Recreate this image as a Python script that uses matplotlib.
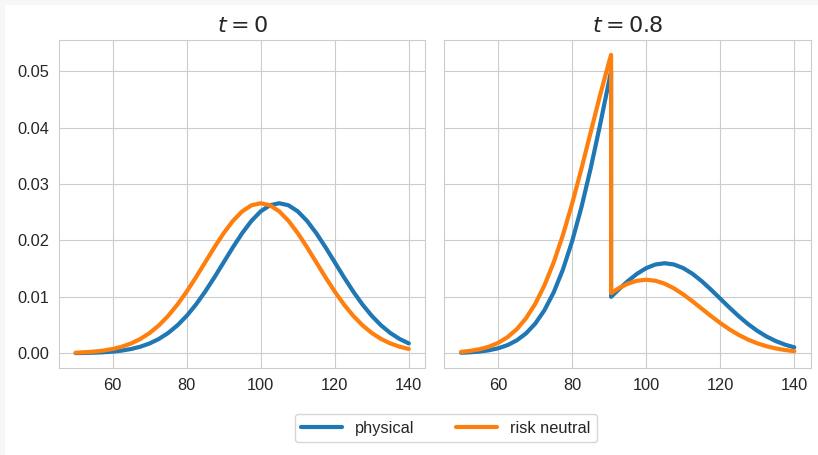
import matplotlib
matplotlib.use("Agg")
import matplotlib.pyplot as plt
import seaborn as sns
from matplotlib.patches import Rectangle

# values
x_t0 = [50, 52.5, 55, 57.5, 60, 62.5, 65, 67.5, 70, 72.5, 75, 77.5, 80, 82.5, 85, 87.5,
        90, 92.5, 95, 97.5, 100, 102.5, 105, 107.5, 110, 112.5, 115, 117.5, 120, 122.5,
        125, 127.5, 130, 132.5, 135, 137.5, 140]
physical_t0 = [0.000032, 0.000058, 0.000103, 0.000177, 0.000295, 0.000480, 0.000760,
               0.001169, 0.001748, 0.002544, 0.003599, 0.004954, 0.006632, 0.008634,
               0.010934, 0.013467, 0.016131, 0.018794, 0.021297, 0.023471, 0.025159,
               0.026229, 0.026596, 0.026229, 0.025159, 0.023471, 0.021297, 0.018794,
               0.016131, 0.013467, 0.010934, 0.008634, 0.006632, 0.004954, 0.003599,
               0.002544, 0.001748]
neutral_t0 = [0.000103, 0.000177, 0.000295, 0.000480, 0.000760, 0.001169, 0.001748,
              0.002544, 0.003599, 0.004954, 0.006632, 0.008634, 0.010934, 0.013467,
              0.016131, 0.018794, 0.021297, 0.023471, 0.025159, 0.026229, 0.026596,
              0.026229, 0.025159, 0.023471, 0.021297, 0.018794, 0.016131, 0.013467,
              0.010934, 0.008634, 0.006632, 0.004954, 0.003599, 0.002544, 0.001748,
              0.001169, 0.000760]

x_t08 = [50, 52.5, 55, 57.5, 60, 62.5, 65, 67.5, 70, 72.5, 75, 77.5, 80, 82.5, 85, 87.5,
         90, 90.5, 90.5, 92.5, 95, 97.5, 100, 102.5, 105, 107.5, 110, 112.5, 115, 117.5,
         120, 122.5, 125, 127.5, 130, 132.5, 135, 137.5, 140]
physical_t08 = [0.000096, 0.000174, 0.000309, 0.000531, 0.000885, 0.001440, 0.002280,
                0.003507, 0.005244, 0.007632, 0.010797, 0.014862, 0.019896, 0.025902,
                0.032802, 0.040401, 0.048393, 0.050010,
                0.010002, 0.011276, 0.012778, 0.014083, 0.015095, 0.015737, 0.015958,
                0.015737, 0.015095, 0.014083, 0.012778, 0.011276, 0.009679, 0.008080,
                0.006560, 0.005180, 0.003979, 0.002972, 0.002159, 0.001526, 0.001049]
neutral_t08 = [0.000250, 0.000430, 0.000717, 0.001166, 0.001847, 0.002841, 0.004248,
               0.006182, 0.008746, 0.012038, 0.016116, 0.020981, 0.026570, 0.032725,
               0.039198, 0.045669, 0.051752, 0.052884,
               0.010664, 0.011501, 0.012328, 0.012852, 0.013032, 0.012852, 0.012328,
               0.011501, 0.010436, 0.009209, 0.007904, 0.006599, 0.005358, 0.004231,
               0.003250, 0.002427, 0.001764, 0.001247, 0.000857, 0.000573, 0.000372]

titles = ["$t = 0$", "$t = 0.8$"]
labels = ["physical", "risk neutral"]

sns.set_style("whitegrid")
plt.rcParams["font.family"] = ["Liberation Sans", "DejaVu Sans"]

fig, axes = plt.subplots(1, 2, figsize=(8.18, 4.55), dpi=100, sharey=True)
fig.patch.set_facecolor("#f7f7f7")
fig.patches.append(Rectangle((5 / 818, 0), 1, 1 - 5 / 455, transform=fig.transFigure,
                             facecolor="white", edgecolor="none", zorder=-1))
fig.subplots_adjust(left=0.0721, right=0.9914, bottom=0.1912, top=0.9121, wspace=0.052)

series = [(x_t0, physical_t0, neutral_t0), (x_t08, physical_t08, neutral_t08)]
for ax, title, (xs, phys, neut) in zip(axes, titles, series):
    ax.plot(xs, phys, color="#1f77b4", lw=3, label=labels[0], solid_joinstyle="round")
    ax.plot(xs, neut, color="#ff7f0e", lw=3, label=labels[1], solid_joinstyle="round")
    ax.set_title(title, fontsize=16)
    ax.tick_params(labelsize=11.8)
    ax.set_xticks([60, 80, 100, 120, 140])
    for s in ax.spines.values():
        s.set_color(".8")

axes[0].set_yticks([0.0, 0.01, 0.02, 0.03, 0.04, 0.05])

handles, labs = axes[0].get_legend_handles_labels()
fig.legend(handles, labs, loc="lower center", ncol=2, fontsize=11.8,
           bbox_to_anchor=(0.545, 0.01), frameon=True, columnspacing=2.5,
           handlelength=2.5)

fig.savefig("out.png", dpi=100)
